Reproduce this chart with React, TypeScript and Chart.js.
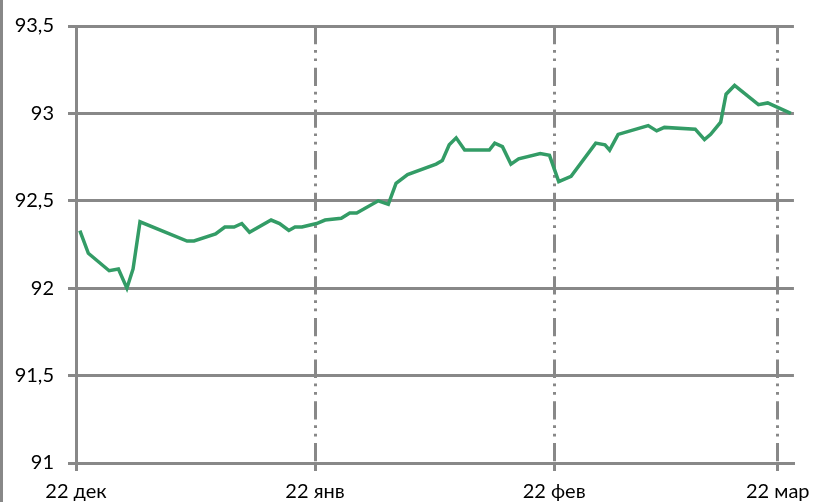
import React, { useEffect, useRef } from "react";
import { Chart, registerables } from "chart.js";

Chart.register(...registerables);

// x = days since 22 Dec (leap year: 22 Mar = day 91)
const TICK_DAYS = [0, 31, 62, 91];
const TICK_LABELS = ["22 дек", "22 янв", "22 фев", "22 мар"];

const DAYS = [
  0.5, 1.6, 4.3, 5.5, 6.6, 7.4, 8.3, 14.4, 15.3, 18.1, 19.3, 20.5, 21.5, 22.5,
  25.3, 26.4, 27.6, 28.4, 29.3, 31.2, 32.3, 34.4, 35.5, 36.4, 39.2, 40.5, 41.5,
  43.0, 46.7, 47.5, 48.4, 49.3, 50.4, 53.6, 54.3, 55.3, 56.4, 57.4, 60.2, 61.4,
  62.6, 64.2, 67.4, 68.6, 69.2, 70.3, 74.2, 75.3, 76.3, 80.3, 81.5, 82.3, 83.6,
  84.3, 85.4, 88.5, 89.7, 90.7, 92.7,
];

const VALUES = [
  92.33, 92.2, 92.1, 92.11, 92.0, 92.11, 92.38, 92.27, 92.27, 92.31, 92.35,
  92.35, 92.37, 92.32, 92.39, 92.37, 92.33, 92.35, 92.35, 92.37, 92.39, 92.4,
  92.43, 92.43, 92.5, 92.48, 92.6, 92.65, 92.71, 92.73, 92.82, 92.86, 92.79,
  92.79, 92.83, 92.81, 92.71, 92.74, 92.77, 92.76, 92.61, 92.64, 92.83, 92.82,
  92.79, 92.88, 92.93, 92.9, 92.92, 92.91, 92.85, 92.88, 92.95, 93.11, 93.16,
  93.05, 93.06, 93.04, 93.0,
];

const Y_MIN = 91;
const Y_MAX = 93.5;
const Y_STEP = 0.5;
const X_MAX = 93.1;

const GRID = "#888888";
const GREEN = "#339c66";
const FONT = { family: "Lato", size: 20 };

export default function App() {
  const ref = useRef<HTMLCanvasElement>(null);

  useEffect(() => {
    if (!ref.current) return;
    const chart = new Chart(ref.current, {
      type: "line",
      data: {
        datasets: [
          {
            data: DAYS.map((d, i) => ({ x: d, y: VALUES[i] })),
            borderColor: GREEN,
            borderWidth: 3.5,
            pointRadius: 0,
            tension: 0,
            fill: false,
          },
        ],
      },
      options: {
        animation: false,
        responsive: false,
        maintainAspectRatio: false,
        layout: { padding: { top: 25, right: 21, left: 0, bottom: 0 } },
        plugins: { legend: { display: false }, tooltip: { enabled: false } },
        scales: {
          x: {
            type: "linear",
            min: 0,
            max: X_MAX,
            afterBuildTicks: (s: any) => {
              s.ticks = TICK_DAYS.map((v) => ({ value: v }));
            },
            afterFit: (s: any) => {
              s.height = 39;
            },
            ticks: {
              callback: (_v: any, i: number) => TICK_LABELS[i],
              autoSkip: false,
              maxRotation: 0,
              color: "#000",
              font: FONT,
              padding: 9,
            },
            grid: {
              color: GRID,
              lineWidth: 3,
              tickLength: 8,
              tickColor: GRID,
              tickWidth: 3,
            },
            border: {
              display: true,
              color: GRID,
              width: 3,
              dash: [18.3, 5.7, 2.7, 5.7, 2.7, 6.6],
              dashOffset: 0,
            },
          },
          y: {
            min: Y_MIN,
            max: Y_MAX,
            afterFit: (s: any) => {
              s.width = 76;
            },
            ticks: {
              stepSize: Y_STEP,
              callback: (v: any) => String(v).replace(".", ","),
              color: "#000",
              font: FONT,
              padding: 14,
            },
            grid: {
              color: GRID,
              lineWidth: 3,
              tickLength: 8,
              tickColor: GRID,
              tickWidth: 3,
            },
            border: { display: true, color: GRID, width: 3 },
          },
        },
      },
    });
    return () => chart.destroy();
  }, []);

  return (
    <div
      style={{
        position: "absolute",
        left: 0,
        top: 0,
        width: 819,
        height: 502,
        background: "#fff",
      }}
    >
      <canvas ref={ref} width={819} height={502} style={{ display: "block" }} />
      <div
        style={{
          position: "absolute",
          left: 0,
          top: 0,
          width: 3,
          height: 502,
          background: GRID,
        }}
      />
    </div>
  );
}
